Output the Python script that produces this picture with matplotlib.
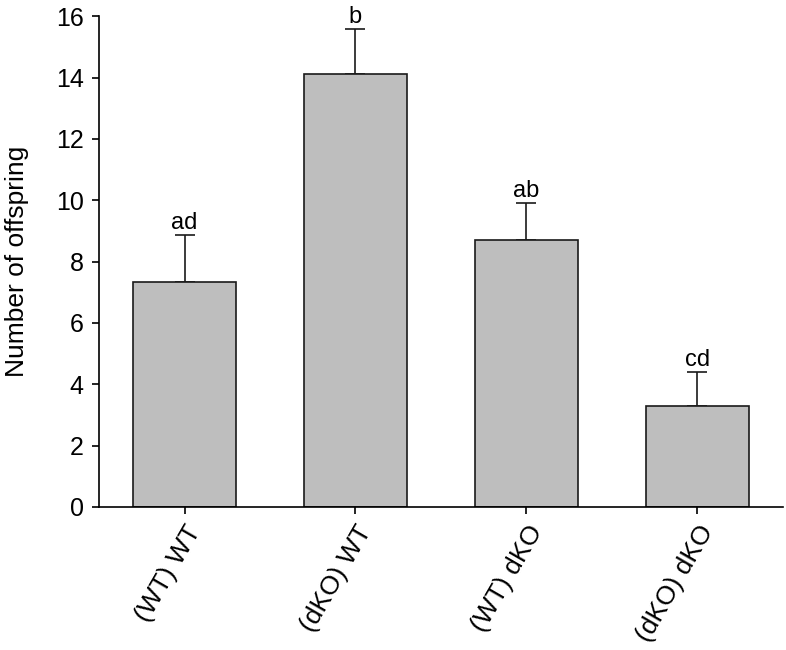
import matplotlib
matplotlib.use("Agg")
import matplotlib.pyplot as plt

categories = ["(WT) WT", "(dKO) WT", "(WT) dKO", "(dKO) dKO"]
values = [7.32, 14.12, 8.70, 3.30]
errors = [1.55, 1.45, 1.20, 1.10]
letters = ["ad", "b", "ab", "cd"]

plt.rcParams['font.family'] = ['Liberation Sans', 'DejaVu Sans']

fig = plt.figure(figsize=(7.86, 6.5), dpi=100)
ax = fig.add_axes([0.126, 0.22, 0.87, 0.755])

x = list(range(len(categories)))
ax.bar(x, values, width=0.6, color="#bebebe", edgecolor="#1a1a1a", linewidth=1.2, zorder=2)
ax.errorbar(x, values, yerr=[[0]*len(values), errors], fmt="none", ecolor="#1a1a1a",
            elinewidth=1.2, capsize=7, capthick=1.2, zorder=1)
for xi, v, e, t in zip(x, values, errors, letters):
    ax.annotate(t, (xi, v + e), xytext=(0, 1), textcoords="offset points",
                ha="center", va="bottom", fontsize=17)

ax.set_xlim(-0.5, 3.5)
ax.set_ylim(0, 16)
ax.set_yticks(range(0, 17, 2))
ax.set_xticks(x)
ax.set_xticklabels(categories, rotation=60, ha="right", rotation_mode="anchor", fontsize=19)
ax.tick_params(axis="y", labelsize=18, length=5, width=1.2, pad=6)
ax.tick_params(axis="x", length=5, width=1.2, pad=5)
ax.set_ylabel("Number of offspring", fontsize=19, labelpad=19)
for s in ["top", "right"]:
    ax.spines[s].set_visible(False)
for s in ["left", "bottom"]:
    ax.spines[s].set_linewidth(1.2)

fig.savefig("out.png", dpi=100)
